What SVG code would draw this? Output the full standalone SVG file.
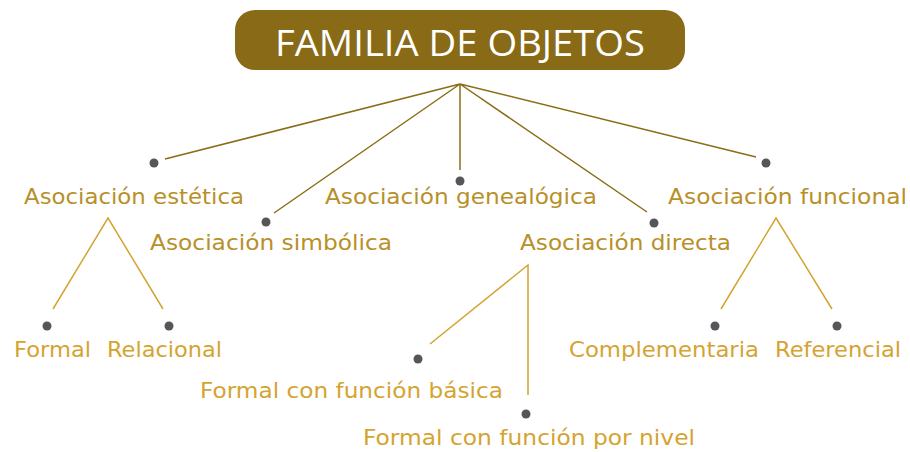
<svg xmlns="http://www.w3.org/2000/svg" width="910" height="452" viewBox="0 0 910 452">
<style>
.t{font-family:"DejaVu Sans","Open Sans",sans-serif;text-anchor:middle}
.l1{font-size:21.5px;fill:#B8902A}
.l2{font-size:21.5px;fill:#D4A431}
.dot{fill:#55565A}
.c1{stroke:#8B6C17;stroke-width:1.5;fill:none}
.c2{stroke:#D4A431;stroke-width:1.5;fill:none}
</style>
<rect width="910" height="452" fill="#fff"/>
<g id="root">
<rect x="235" y="10" width="450" height="60" rx="20" fill="#886A17"/>
<text x="460" y="56" font-family="'Open Sans',sans-serif" text-anchor="middle" font-size="37" fill="#fff" textLength="370" lengthAdjust="spacingAndGlyphs">FAMILIA DE OBJETOS</text>
</g>
<g id="connectors">
<path class="c1" d="M460 84L165 159M460 84L274 213M460 84V170M460 84L647 212M460 84L756 157"/>
<path class="c2" d="M53 309L108 218L163 309M430 344L528 265V395M721 309L776 218L832 309"/>
</g>
<g id="n-estetica"><circle class="dot" cx="154" cy="163" r="4.5"/><text class="t l1" x="134" y="204" textLength="220" lengthAdjust="spacingAndGlyphs">Asociación estética</text></g>
<g id="n-simbolica"><circle class="dot" cx="266" cy="222" r="4.5"/><text class="t l1" x="271" y="250" textLength="242" lengthAdjust="spacingAndGlyphs">Asociación simbólica</text></g>
<g id="n-genealogica"><circle class="dot" cx="460" cy="181" r="4.5"/><text class="t l1" x="461" y="204" textLength="272" lengthAdjust="spacingAndGlyphs">Asociación genealógica</text></g>
<g id="n-directa"><circle class="dot" cx="654" cy="223" r="4.5"/><text class="t l1" x="625.5" y="250" textLength="211" lengthAdjust="spacingAndGlyphs">Asociación directa</text></g>
<g id="n-funcional"><circle class="dot" cx="766" cy="163" r="4.5"/><text class="t l1" x="787.5" y="204" textLength="239" lengthAdjust="spacingAndGlyphs">Asociación funcional</text></g>
<g id="n-formal"><circle class="dot" cx="47" cy="326" r="4.5"/><text class="t l2" x="52.5" y="357" textLength="77" lengthAdjust="spacingAndGlyphs">Formal</text></g>
<g id="n-relacional"><circle class="dot" cx="169" cy="326" r="4.5"/><text class="t l2" x="164.5" y="357" textLength="115" lengthAdjust="spacingAndGlyphs">Relacional</text></g>
<g id="n-basica"><circle class="dot" cx="418" cy="359" r="4.5"/><text class="t l2" x="351.5" y="398" textLength="303" lengthAdjust="spacingAndGlyphs">Formal con función básica</text></g>
<g id="n-nivel"><circle class="dot" cx="526" cy="414" r="4.5"/><text class="t l2" x="529" y="445" textLength="332" lengthAdjust="spacingAndGlyphs">Formal con función por nivel</text></g>
<g id="n-complementaria"><circle class="dot" cx="715" cy="326" r="4.5"/><text class="t l2" x="664" y="357" textLength="190" lengthAdjust="spacingAndGlyphs">Complementaria</text></g>
<g id="n-referencial"><circle class="dot" cx="837" cy="326" r="4.5"/><text class="t l2" x="838" y="357" textLength="126" lengthAdjust="spacingAndGlyphs">Referencial</text></g>
</svg>
